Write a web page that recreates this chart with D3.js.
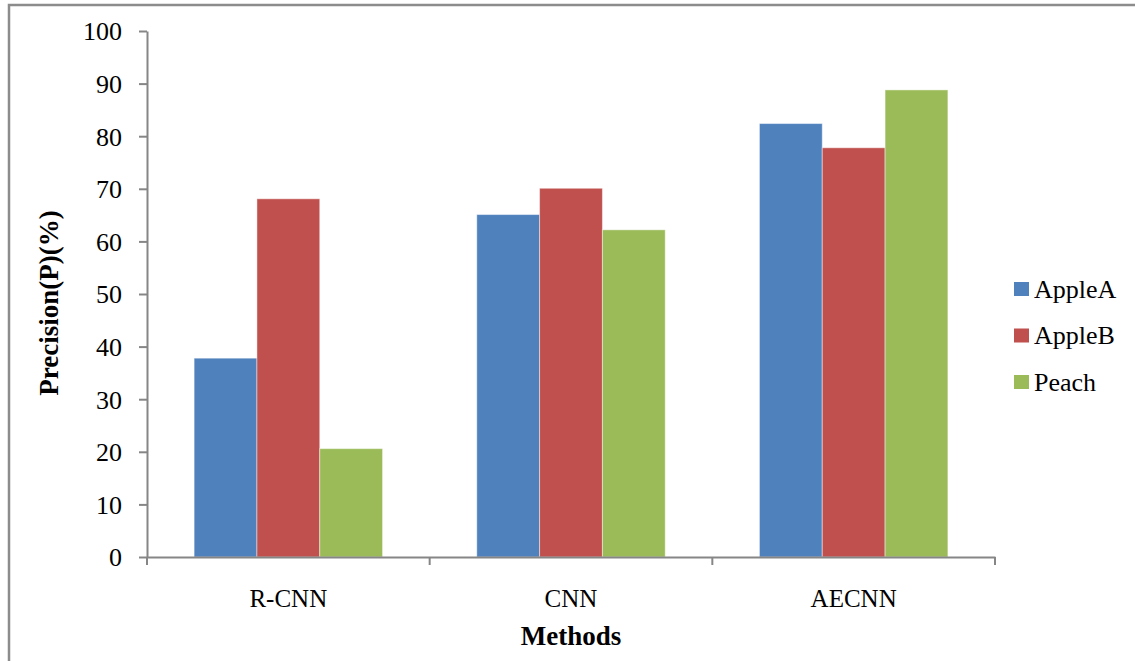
<!DOCTYPE html>
<html>
<head>
<meta charset="utf-8">
<script src="https://cdn.jsdelivr.net/npm/d3@7"></script>
<style>
  html, body { margin: 0; padding: 0; background: #fff; }
  svg { display: block; }
  text { font-family: "Liberation Serif", "DejaVu Serif", serif; fill: #000; }
</style>
</head>
<body>
<svg id="chart" width="1135" height="661"></svg>
<script>
// Precision of each detection method per fruit dataset
const methods = ["R-CNN", "CNN", "AECNN"];
const seriesNames = ["AppleA", "AppleB", "Peach"];
const appleA = [37.8, 65.1, 82.4];
const appleB = [68.1, 70.1, 77.8];
const peach  = [20.6, 62.2, 88.8];
const yTicks = [0, 10, 20, 30, 40, 50, 60, 70, 80, 90, 100];
const colors = ["#4F81BD", "#C0504D", "#9BBB59"];

const seriesValues = [appleA, appleB, peach];
const rows = methods.map((m, i) => ({
  method: m,
  values: seriesNames.map((s, j) => ({ series: s, value: seriesValues[j][i], color: colors[j] }))
}));

const svg = d3.select("#chart");
const W = 1135, H = 661;
const plot = { left: 147, right: 995, top: 31, bottom: 557 };
const axisColor = "#868686";

// outer chart frame
svg.append("rect")
  .attr("x", 9).attr("y", 5)
  .attr("width", W + 10).attr("height", H + 10)
  .attr("fill", "none").attr("stroke", "#8c8c8c").attr("stroke-width", 2.5);

const x = d3.scaleBand().domain(methods).range([plot.left, plot.right]).paddingInner(0).paddingOuter(0);
const xs = d3.scaleBand().domain(seriesNames).range([0, x.bandwidth()]).paddingInner(0).paddingOuter(0.75);
const y = d3.scaleLinear().domain([0, 100]).range([plot.bottom, plot.top]);

// bars
const groups = svg.append("g").selectAll("g").data(rows).join("g")
  .attr("transform", d => `translate(${x(d.method)},0)`);
groups.selectAll("rect").data(d => d.values).join("rect")
  .attr("x", d => xs(d.series))
  .attr("y", d => y(d.value))
  .attr("width", xs.bandwidth())
  .attr("height", d => y(0) - y(d.value))
  .attr("fill", d => d.color)
  .attr("stroke", "rgba(255,255,255,0.45)")
  .attr("stroke-width", 1);

// y axis
const yAxis = svg.append("g")
  .attr("transform", `translate(${plot.left},0)`)
  .call(d3.axisLeft(y).tickValues(yTicks).tickSize(8).tickPadding(17).tickSizeOuter(0));
yAxis.select(".domain").attr("stroke", axisColor).attr("stroke-width", 2);
yAxis.selectAll(".tick line").attr("stroke", axisColor).attr("stroke-width", 2);
yAxis.selectAll(".tick text")
  .style("font-family", "'Liberation Serif', serif")
  .attr("font-size", 26).attr("dy", "0.34em");

// x axis: line with boundary ticks between categories
const xAxis = svg.append("g")
  .attr("transform", `translate(0,${plot.bottom})`)
  .call(d3.axisBottom(x).tickSize(0).tickPadding(32).tickSizeOuter(0));
xAxis.select(".domain").attr("stroke", axisColor).attr("stroke-width", 2);
xAxis.selectAll(".tick text")
  .style("font-family", "'Liberation Serif', serif")
  .attr("font-size", 25);
const boundaries = methods.map(m => x(m)).concat([x(methods[methods.length - 1]) + x.bandwidth()]);
xAxis.selectAll("line.boundary").data(boundaries).join("line")
  .attr("class", "boundary")
  .attr("x1", d => d).attr("x2", d => d)
  .attr("y1", 0).attr("y2", 8)
  .attr("stroke", axisColor).attr("stroke-width", 2);

// axis titles
svg.append("text")
  .attr("transform", `translate(${(plot.left + plot.right) / 2},${645})`)
  .attr("text-anchor", "middle")
  .attr("font-size", 27).attr("font-weight", "bold")
  .text("Methods");
svg.append("text")
  .attr("transform", `translate(${58},${303}) rotate(-90)`)
  .attr("text-anchor", "middle")
  .attr("font-size", 27).attr("font-weight", "bold")
  .text("Precision(P)(%)");

// legend
const legend = svg.append("g").attr("transform", "translate(1014,289)");
const li = legend.selectAll("g").data(seriesNames).join("g")
  .attr("transform", (d, i) => `translate(0,${i * 46.5})`);
li.append("rect")
  .attr("x", 0).attr("y", -7).attr("width", 15).attr("height", 14)
  .attr("fill", (d, i) => colors[i]);
li.append("text")
  .attr("x", 20).attr("y", 0).attr("dy", "0.34em")
  .attr("font-size", 26)
  .text(d => d);
</script>
</body>
</html>
